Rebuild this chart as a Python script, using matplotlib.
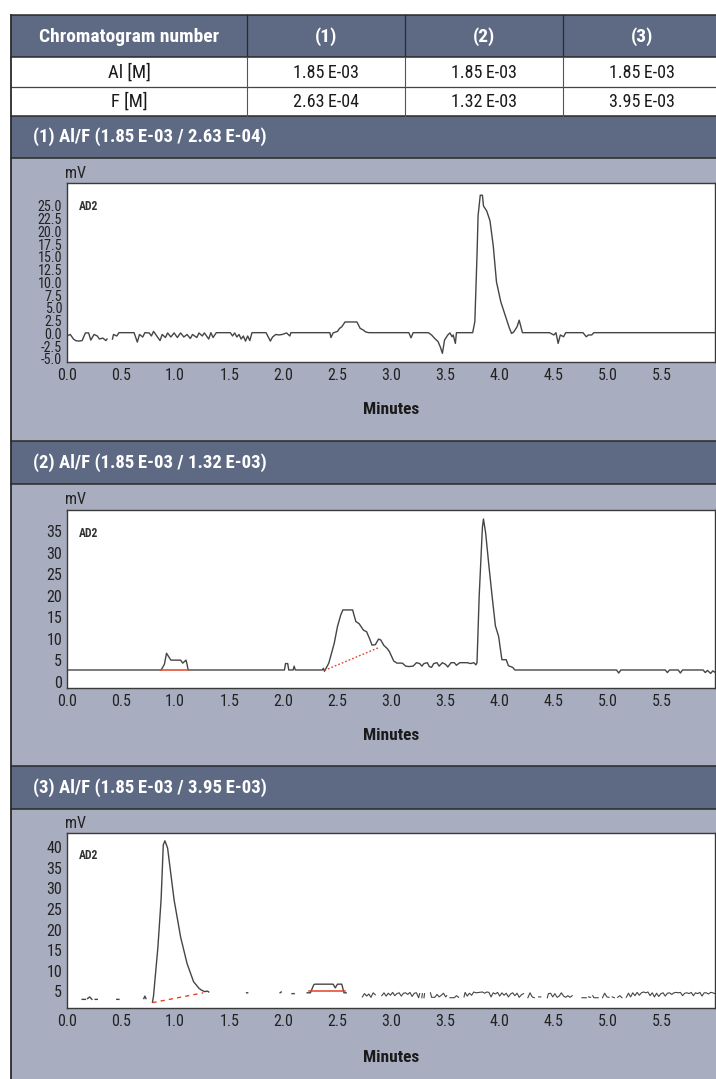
import numpy as np
import matplotlib
matplotlib.use("Agg")
import matplotlib.pyplot as plt
from matplotlib import font_manager
from matplotlib.patches import Rectangle

nan = np.nan

# ---------------- table content ----------------
col_headers = ["Chromatogram number", "(1)", "(2)", "(3)"]
row_labels = ["Al [M]", "F [M]"]
al_conc = ["1.85\u2009E-03", "1.85\u2009E-03", "1.85\u2009E-03"]
f_conc = ["2.63\u2009E-04", "1.32\u2009E-03", "3.95\u2009E-03"]
panel_titles = ["(1) Al/F (1.85\u2009E-03 / 2.63\u2009E-04)",
                "(2) Al/F (1.85\u2009E-03 / 1.32\u2009E-03)",
                "(3) Al/F (1.85\u2009E-03 / 3.95\u2009E-03)"]

# ---------------- axis ticks ----------------
x_ticks = [0.0, 0.5, 1.0, 1.5, 2.0, 2.5, 3.0, 3.5, 4.0, 4.5, 5.0, 5.5]
y_ticks1 = [-5.0, -2.5, 0.0, 2.5, 5.0, 7.5, 10.0, 12.5, 15.0, 17.5, 20.0, 22.5, 25.0]
y_ticks2 = [0, 5, 10, 15, 20, 25, 30, 35]
y_ticks3 = [5, 10, 15, 20, 25, 30, 35, 40]

# ---------------- chromatogram 1 ----------------
t1 = [0.00, 0.03, 0.06, 0.08, 0.11, 0.14, 0.17, 0.20, 0.22, 0.25,
      0.28, 0.30, 0.33, 0.36, 0.37, 0.39, 0.42, 0.43, 0.46, 0.48,
      0.62, 0.65, 0.67, 0.70, 0.72, 0.76, 0.78, 0.80, 0.83, 0.86,
      0.88, 0.91, 0.93, 0.96, 0.99, 1.02, 1.05, 1.08, 1.11, 1.14,
      1.16, 1.20, 1.22, 1.25, 1.27, 1.31, 1.33, 1.35, 1.38, 1.51,
      1.53, 1.55, 1.57, 1.59, 1.61, 1.63, 1.65, 1.67, 1.69, 1.71,
      1.84, 1.88, 1.90, 1.93, 1.96, 1.99, 2.03, 2.06, 2.07, 2.43,
      2.44, 2.46, 2.50, 2.52, 2.54, 2.57, 2.68, 2.71, 2.74, 2.76,
      2.79, 3.16, 3.18, 3.20, 3.34, 3.37, 3.40, 3.43, 3.45, 3.47,
      3.49, 3.52, 3.54, 3.56, 3.57, 3.59, 3.60, 3.75, 3.77, 3.79,
      3.80, 3.82, 3.84, 3.85, 3.88, 3.91, 3.94, 3.97, 4.01, 4.05,
      4.09, 4.11, 4.13, 4.16, 4.18, 4.20, 4.21, 4.46, 4.50, 4.52,
      4.54, 4.56, 4.59, 4.61, 4.77, 4.80, 4.82, 4.85, 4.87, 6.00]
v1 = [-0.5, -0.2, -1.1, -1.4, -1.5, -1.4, 0.1, 0.1, -1.3, -0.2,
      -0.5, -1.1, -0.9, -1.4, -1.1, nan, -1.1, -0.2, -0.5, 0.15,
      0.15, -1.7, -0.2, -0.7, 0.15, 0.1, -0.5, 0.4, -0.5, -1.4,
      -0.2, -0.8, 0.1, -0.7, 0.1, -0.8, 0.1, -0.7, -0.2, -1.0,
      -0.2, -0.8, 0.1, -0.5, 0.1, -1.1, 0.15, -0.8, 0.15, 0.15,
      -0.5, 0.1, -0.7, -0.2, -1.1, -0.5, -1.5, -0.5, -1.4, 0.15,
      0.15, -1.5, -0.7, -0.2, -0.3, -0.2, 0.1, -0.5, 0.15, 0.15,
      -0.8, 0.1, 0.4, 1.0, 1.3, 2.25, 2.25, 1.0, 0.65, 0.3,
      0.15, 0.15, -0.85, 0.15, 0.15, -0.3, -1.0, -1.6, -2.6, -3.9,
      -1.3, -0.3, 0.1, -0.65, -0.3, -1.95, 0.15, 0.15, 2.3, 15.3,
      23.1, 27.1, 27.1, 25.0, 24.0, 22.1, 17.2, 10.1, 6.2, 3.6,
      1.0, 0.0, 0.3, 1.3, 2.6, 1.0, 0.15, 0.15, -0.3, 0.15,
      -1.95, -0.3, -0.65, 0.15, 0.15, -0.65, -0.3, -0.3, 0.15, 0.15]

# ---------------- chromatogram 2 ----------------
t2 = [0.00, 0.87, 0.90, 0.92, 0.96, 1.05, 1.07, 1.10, 1.11, 1.12,
      2.01, 2.02, 2.04, 2.05, 2.09, 2.10, 2.11, 2.36, 2.37, 2.38,
      2.42, 2.47, 2.50, 2.53, 2.55, 2.64, 2.67, 2.70, 2.74, 2.77,
      2.80, 2.82, 2.85, 2.88, 2.90, 2.93, 2.96, 2.98, 3.02, 3.05,
      3.10, 3.13, 3.16, 3.20, 3.23, 3.26, 3.28, 3.30, 3.33, 3.35,
      3.37, 3.39, 3.42, 3.44, 3.47, 3.50, 3.52, 3.55, 3.58, 3.60,
      3.63, 3.70, 3.73, 3.76, 3.78, 3.79, 3.81, 3.84, 3.85, 3.87,
      3.90, 3.93, 3.96, 3.99, 4.02, 4.06, 4.08, 4.12, 4.14, 5.08,
      5.10, 5.12, 5.53, 5.55, 5.57, 5.65, 5.67, 5.69, 5.88, 5.90,
      5.92, 5.95, 5.97, 6.00]
v2 = [2.7, 2.7, 4.0, 6.6, 5.0, 5.0, 4.3, 5.0, 4.0, 2.7,
      2.7, 4.2, 4.2, 2.7, 2.7, 3.6, 2.7, 2.7, 3.1, 2.4,
      4.3, 8.9, 12.8, 15.5, 16.7, 16.7, 14.0, 13.5, 12.0, 11.6,
      9.8, 8.5, 8.6, 9.9, 9.7, 8.4, 7.7, 7.0, 4.8, 4.3,
      4.3, 3.6, 3.5, 3.6, 4.4, 4.2, 3.6, 4.2, 4.4, 3.5,
      3.3, 4.2, 4.4, 3.6, 4.4, 4.0, 3.4, 4.4, 4.4, 3.8,
      4.4, 4.4, 4.2, 4.4, 3.9, 4.4, 19.8, 36.0, 37.9, 34.6,
      27.0, 19.8, 13.0, 10.5, 5.1, 5.1, 3.7, 3.3, 2.7, 2.7,
      2.0, 2.7, 2.7, 2.1, 2.7, 2.7, 2.0, 2.7, 2.7, 2.1,
      2.6, 1.9, 2.5, 2.0]
base2_solid_t = [0.87, 1.12]
base2_solid_v = [2.7, 2.7]
base2_dot_t = [2.38, 2.89]
base2_dot_v = [2.6, 8.0]

# ---------------- chromatogram 3 ----------------
t3 = [0.14, 0.17, 0.18, 0.19, 0.21, 0.23, 0.24, 0.26, 0.28, 0.29,
      0.46, 0.48, 0.49, 0.71, 0.72, 0.73, 0.74, 0.79, 0.80, 0.84,
      0.87, 0.89, 0.905, 0.93, 0.96, 0.99, 1.05, 1.11, 1.17, 1.22,
      1.24, 1.27, 1.30, 1.31, 1.32, 1.66, 1.67, 1.68, 1.97, 1.98,
      1.99, 2.08, 2.10, 2.11, 2.22, 2.25, 2.28, 2.29, 2.46, 2.48,
      2.50, 2.54, 2.56, 2.58, 2.60]
v3 = [3.0, 3.0, nan, 3.2, 3.6, 3.0, nan, 3.0, 3.0, nan,
      3.0, 3.0, nan, 3.2, 3.8, 3.2, nan, 2.3, 3.9, 15.6,
      27.4, 40.6, 41.6, 39.8, 33.5, 27.2, 18.2, 11.7, 7.3, 5.7,
      5.3, 4.9, 5.0, 4.8, nan, 4.6, 4.6, nan, 4.6, 4.8,
      nan, 4.4, 4.4, nan, 4.6, 4.6, 6.5, 6.7, 6.7, 5.8,
      6.7, 6.7, 4.6, 4.6, nan]
t3_noise = [2.73, 2.75, 2.77, 2.79, 2.81, 2.83, 2.85, 2.87,
            2.91, 2.93, 2.95, 2.97, 2.99, 3.01, 3.03, 3.05, 3.07, 3.09,
            3.11, 3.13, 3.15, 3.17, 3.19, 3.21, 3.23, 3.25, 3.26, 3.27,
            3.28, 3.285, 3.29, 3.30, 3.305, 3.31,
            3.36, 3.37, 3.40, 3.42, 3.44, 3.46, 3.48, 3.50, 3.51, 3.52,
            3.54, 3.58, 3.60, 3.62, 3.63,
            3.67, 3.68, 3.70, 3.72, 3.74, 3.76, 3.78, 3.84, 3.86, 3.88,
            3.90, 3.92, 3.94, 3.96, 3.98, 4.00, 4.02, 4.04, 4.06, 4.08,
            4.10, 4.12, 4.14, 4.16, 4.18, 4.20, 4.22, 4.23,
            4.26, 4.28, 4.30, 4.32, 4.33, 4.36, 4.38, 4.39,
            4.44, 4.45, 4.47, 4.49, 4.51, 4.53, 4.55, 4.57, 4.59, 4.61,
            4.63, 4.65, 4.67, 4.68,
            4.76, 4.80, 4.81, 4.82, 4.84, 4.85, 4.86, 4.87, 4.91, 4.92,
            4.95, 4.97, 4.99, 5.01, 5.02, 5.04, 5.06, 5.07, 5.09, 5.11,
            5.13, 5.14,
            5.17, 5.19, 5.21, 5.23, 5.25, 5.27, 5.29, 5.31, 5.33, 5.35,
            5.37, 5.39, 5.41, 5.43, 5.45, 5.47, 5.49, 5.51, 5.53, 5.55,
            5.57, 5.59, 5.61, 5.63, 5.65, 5.67, 5.69, 5.71, 5.73, 5.75,
            5.77, 5.79, 5.81, 5.83, 5.85, 5.87, 5.89, 5.91, 5.93, 5.95,
            5.97, 5.99]
v3_noise = [3.6, 4.4, 3.8, 4.3, 3.5, 4.6, 4.1, nan,
            3.9, 4.6, 3.8, 4.5, 4.0, 4.7, 3.9, 4.4, 4.6, 3.8,
            4.5, 4.6, 4.2, 4.7, 3.7, 4.5, 4.6, 3.4, 4.4, nan,
            3.4, 4.4, nan, 3.4, 4.4, nan,
            4.6, 3.5, 3.5, 4.2, 3.6, 4.0, 4.5, 3.6, 3.9, nan,
            3.4, 3.4, 3.9, 3.5, nan,
            3.6, 4.7, 3.8, 4.5, 4.0, 4.8, 4.6, 4.8, 4.5, 4.8,
            4.7, 3.6, 4.6, 4.3, 4.7, 3.8, 4.6, 4.0, 4.5, 3.6,
            4.3, 4.6, 3.9, 4.5, 3.5, 4.1, 4.4, nan,
            3.4, 4.6, 3.6, 3.4, nan, 3.6, 3.6, nan,
            3.4, 4.4, 4.5, 3.6, 4.4, 3.5, 3.8, 4.6, 3.8, 3.5,
            3.9, 3.5, 3.9, nan,
            3.4, 3.4, nan, 3.6, 3.5, nan, 3.9, 3.4, 3.4, nan,
            3.4, 4.5, 3.6, 3.5, nan, 3.6, 3.4, nan, 3.5, 3.9,
            3.4, nan,
            3.5, 4.5, 3.6, 4.6, 3.9, 4.7, 4.0, 4.6, 4.8, 4.6,
            4.8, 3.9, 4.6, 3.6, 4.5, 3.7, 4.4, 4.6, 3.8, 4.5,
            4.6, 4.2, 4.6, 4.7, 4.6, 4.7, 3.9, 4.5, 4.6, 4.4,
            4.7, 3.9, 4.6, 4.4, 4.7, 3.8, 4.6, 4.6, 4.3, 4.7,
            4.6, 4.4]
base3_dash_t = [0.79, 1.26]
base3_dash_v = [2.2, 4.6]
base3_solid_t = [2.24, 2.57]
base3_solid_v = [5.0, 5.0]

# ---------------- fonts ----------------
avail = {f.name for f in font_manager.fontManager.ttflist}
cond = [n for n in ["Liberation Sans Narrow", "Roboto Condensed",
                    "Open Sans Condensed"] if n in avail][:1]
FAM = cond + ["Roboto", "DejaVu Sans"]
plt.rcParams["font.family"] = FAM

# ---------------- layout (pixels) ----------------
W, H = 716, 1079
SLATE = "#5e6a84"
GRAY = "#a8adbf"
LINE = "#2a2a2a"
TXT = "#222222"
TRACE = "#454545"
RED = "#e2432b"

fig = plt.figure(figsize=(W / 100, H / 100), dpi=100)
fig.patch.set_facecolor("white")
bg = fig.add_axes([0, 0, 1, 1], zorder=0)
bg.set_xlim(0, W)
bg.set_ylim(H, 0)
bg.axis("off")

L, R = 11, 722


def rect(y0, y1, color):
    bg.add_patch(Rectangle((L, y0), R - L, y1 - y0, facecolor=color,
                           edgecolor="none", zorder=1))


rect(15, 57, SLATE)
rect(57, 116, "white")
bars = [(116, 158), (441, 484), (766, 809)]
grays = [(158, 441), (484, 766), (809, 1085)]
for b in bars:
    rect(*b, SLATE)
for g in grays:
    rect(*g, GRAY)

for y in [15, 57, 116, 158, 441, 484, 766, 809]:
    bg.plot([L, R], [y, y], color=LINE, lw=1.1, zorder=3)
bg.plot([L, R], [87, 87], color="#444444", lw=0.9, zorder=3)
bg.plot([L, L], [15, H + 5], color=LINE, lw=1.3, zorder=3)
for x in [247, 405, 563]:
    bg.plot([x, x], [15, 57], color=LINE, lw=0.9, zorder=3)
    bg.plot([x, x], [57, 116], color="#555555", lw=0.8, zorder=3)

col_centers = [129, 326, 484, 642]
for cx, txt in zip(col_centers, col_headers):
    bg.text(cx, 36.5, txt, color="white", fontsize=14, fontweight="bold",
            ha="center", va="center", zorder=4)
bg.text(col_centers[0], 72.5, row_labels[0], color="#1a1a1a", fontsize=13.5,
        ha="center", va="center", zorder=4)
bg.text(col_centers[0], 102, row_labels[1], color="#1a1a1a", fontsize=13.5,
        ha="center", va="center", zorder=4)
for cx, a, f in zip(col_centers[1:], al_conc, f_conc):
    bg.text(cx, 72.5, a, color="#1a1a1a", fontsize=13, ha="center",
            va="center", zorder=4)
    bg.text(cx, 102, f, color="#1a1a1a", fontsize=13, ha="center",
            va="center", zorder=4)

for (y0, y1), title in zip(bars, panel_titles):
    bg.text(33, (y0 + y1) / 2, title, color="white", fontsize=13.5,
            fontweight="bold", ha="left", va="center", zorder=4)

# ---------------- chromatogram axes ----------------
boxes = [(67, 183, 715, 362), (67, 510, 715, 688), (67, 833, 715, 1008)]
ylims = [(-5.6, 29.5), (-1.5, 40.0), (0.9, 43.5)]
yticks = [y_ticks1, y_ticks2, y_ticks3]
yfmt = ["{:.1f}", "{:d}", "{:d}"]
ysize = [10.2, 11.5, 11.5]
minutes_y = [410, 735, 1057]


def to_fig(x0, y0, x1, y1):
    return [x0 / W, 1 - y1 / H, (x1 - x0) / W, (y1 - y0) / H]


axes = []
for i, box in enumerate(boxes):
    ax = fig.add_axes(to_fig(*box), zorder=2)
    ax.set_facecolor("white")
    ax.set_xlim(0, 5.99)
    ax.set_ylim(*ylims[i])
    ax.set_xticks(x_ticks)
    ax.set_xticklabels(["{:.1f}".format(v) for v in x_ticks])
    ax.set_yticks(yticks[i])
    ax.set_yticklabels([yfmt[i].format(v) for v in yticks[i]])
    ax.tick_params(length=0, colors=TXT)
    ax.tick_params(axis="x", pad=4.5, labelsize=11.5)
    ax.tick_params(axis="y", pad=3.5, labelsize=ysize[i])
    for s in ax.spines.values():
        s.set_color("#3a3a3a")
        s.set_linewidth(1.0)
    ax.text(0.019, 0.87, "AD2", transform=ax.transAxes, fontsize=8.5,
            color="#333333", ha="left", va="center", fontweight="bold")
    bg.text(box[0] - 2, box[1] - 10, "mV", fontsize=11.5, color=TXT,
            ha="left", va="center", zorder=4)
    bg.text((box[0] + box[2]) / 2, minutes_y[i], "Minutes", fontsize=12.5,
            fontweight="bold", color="#1a1a1a", ha="center", va="center",
            zorder=4)
    axes.append(ax)

axes[0].plot(t1, v1, color=TRACE, lw=1.0)

axes[1].plot(t2, v2, color=TRACE, lw=1.0)
axes[1].plot(base2_solid_t, base2_solid_v, color=RED, lw=1.1)
axes[1].plot(base2_dot_t, base2_dot_v, color=RED, lw=1.0, ls=(0, (1.2, 1.5)))

axes[2].plot(t3, v3, color=TRACE, lw=1.0)
axes[2].plot(t3_noise, v3_noise, color=TRACE, lw=0.8)
axes[2].plot(base3_dash_t, base3_dash_v, color=RED, lw=1.0, ls=(0, (3, 3)))
axes[2].plot(base3_solid_t, base3_solid_v, color=RED, lw=1.1)

fig.savefig("out.png", dpi=100, facecolor="white")
